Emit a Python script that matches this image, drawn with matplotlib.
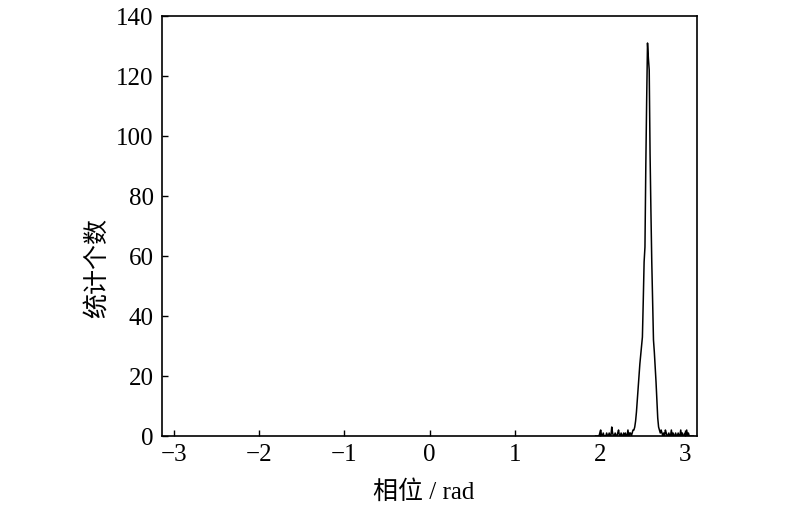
import numpy as np
import matplotlib.pyplot as plt

plt.rcParams['font.family'] = ['Liberation Serif', 'Noto Sans CJK SC']
plt.rcParams['axes.unicode_minus'] = True

# bin centres (rad) and counts
phase_start = 1.95
phase_step = 0.01
counts = [
    0, 0, 0, 0, 0,
    1, 2, 0, 0, 1, 0, 0, 0, 1, 0,
    0, 1, 0, 0, 3, 1, 0, 0, 1, 0,
    0, 1, 2, 0, 0, 1, 0, 0, 1, 0,
    1, 0, 0, 2, 0, 1, 1, 0, 1, 2,
    2, 3, 5, 8, 12, 16, 20, 24, 27, 30,
    33, 45, 58, 63, 90, 112, 131, 126, 122, 94,
    75, 58, 45, 32, 28, 23, 18, 12, 6, 3,
    2, 1, 2, 1, 0, 1, 0, 2, 1, 0,
    0, 1, 0, 0, 2, 0, 1, 0, 0, 1,
    0, 0, 1, 0, 0, 2, 0, 1, 0, 0,
    1, 0, 2, 0, 1, 0, 0, 0, 0, 0,
    0,
]
phase = phase_start + phase_step * np.arange(len(counts))

xticks = [-3, -2, -1, 0, 1, 2, 3]
yticks = [0, 20, 40, 60, 80, 100, 120, 140]

fig = plt.figure(figsize=(8, 5.12), dpi=100)
ax = fig.add_axes([0.2025, 0.1484, 0.6688, 0.8203])

ax.plot(phase, counts, color='black', linewidth=1.1)

ax.set_xlim(-np.pi, np.pi)
ax.set_ylim(0, 140)
ax.set_xticks(xticks)
ax.set_yticks(yticks)
ax.tick_params(direction='in', length=4, width=1, labelsize=18, pad=6)
for s in ax.spines.values():
    s.set_linewidth(1.2)

ax.set_xlabel('相位 / rad', fontsize=18)
ax.xaxis.set_label_coords(0.49, -0.105)
ax.set_ylabel('统计个数', fontsize=18)
ax.yaxis.set_label_coords(-0.10, 0.40)

fig.savefig('out.png', dpi=100)
